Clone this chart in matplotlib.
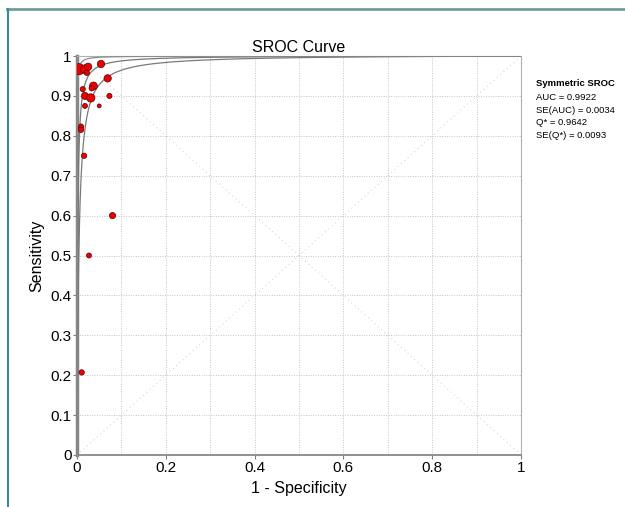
import numpy as np
import matplotlib.pyplot as plt
from matplotlib.lines import Line2D

plt.rcParams['font.family'] = ['Liberation Sans', 'DejaVu Sans']

# study points (1 - specificity, sensitivity, marker size)
fpr = [0.0045, 0.018, 0.025, 0.022, 0.054, 0.069, 0.013, 0.018, 0.031, 0.037,
       0.033, 0.073, 0.018, 0.050, 0.009, 0.009, 0.016, 0.080, 0.027, 0.0105]
sens = [0.967, 0.967, 0.973, 0.958, 0.980, 0.944, 0.917, 0.900, 0.895, 0.925,
        0.919, 0.900, 0.875, 0.875, 0.823, 0.815, 0.750, 0.600, 0.500, 0.207]
wts = [64, 40, 28, 15, 28, 28, 14, 26, 36, 32,
       14, 14, 13, 8, 15, 15, 15, 20, 13, 15]

# symmetric SROC: log diagnostic odds ratio for curve and its bounds
auc_a = 6.586
a_lower = 5.5
a_upper = 8.7

stats = ['AUC = 0.9922', 'SE(AUC) = 0.0034', 'Q* = 0.9642', 'SE(Q*) = 0.0093']


def sroc(f, a):
    return 1.0 / (1.0 + np.exp(-a) * (1 - f) / f)


fig = plt.figure(figsize=(6.25, 5.07), dpi=100)
ax = fig.add_axes([0.1232, 0.1026, 0.7104, 0.7869])

f = np.concatenate([np.logspace(-7, -2, 400), np.linspace(0.0101, 1, 600)])
ax.plot([0, 1], [0, 1], color='#d8d8d8', lw=0.8, ls=(0, (1, 3)), zorder=1)
ax.plot([0, 1], [1, 0], color='#d8d8d8', lw=0.8, ls=(0, (1, 3)), zorder=1)

ax.plot(f, sroc(f, auc_a), color='#777777', lw=0.9, zorder=3)
ax.plot(f, sroc(f, a_lower), color='#7a7a7a', lw=0.9, zorder=3)
ax.plot(f, sroc(f, a_upper), color='#8a8a8a', lw=0.9, zorder=3)

ax.scatter(fpr, sens, s=wts, c='#ee0000', edgecolors='#550000', linewidths=0.5, zorder=4)

ax.set_xlim(0, 1)
ax.set_ylim(0, 1)
ax.set_xticks(np.arange(0, 1.01, 0.2))
ax.set_xticks(np.arange(0, 1.01, 0.1), minor=True)
ax.set_yticks(np.arange(0, 1.01, 0.1))
ax.set_xticklabels(['0', '0.2', '0.4', '0.6', '0.8', '1'])
ax.set_yticklabels(['0', '0.1', '0.2', '0.3', '0.4', '0.5', '0.6', '0.7', '0.8', '0.9', '1'])
ax.grid(True, which='both', color='#c4c4c4', ls=(0, (1, 1.5)), lw=0.7)
ax.tick_params(axis='both', which='major', labelsize=11, length=3, width=0.8,
               color='#808080', pad=1)
ax.tick_params(axis='x', which='minor', length=0)
for s in ['top', 'right']:
    ax.spines[s].set_color('#b0b0b0')
for s in ['left', 'bottom']:
    ax.spines[s].set_color('#888888')
ax.spines['left'].set_linewidth(2.5)
ax.spines['bottom'].set_linewidth(1.3)

ax.set_title('SROC Curve', fontsize=11.5, pad=3)
ax.set_xlabel('1 - Specificity', fontsize=11.5, labelpad=5)
ax.set_ylabel('Sensitivity', fontsize=11.5, labelpad=4)

fig.text(0.857, 0.836, 'Symmetric SROC', fontsize=6.8, fontweight='bold', va='center')
for i, t in enumerate(stats):
    fig.text(0.857, 0.808 - i * 0.025, t, fontsize=6.8, va='center')

# frame edges of the original panel
fig.add_artist(Line2D([0.011, 1], [0.982, 0.982], color='#6f9ea0', lw=2, transform=fig.transFigure))
fig.add_artist(Line2D([0.012, 0.012], [0, 0.982], color='#3f8a90', lw=1.5, transform=fig.transFigure))

fig.savefig('out.png', dpi=100)
